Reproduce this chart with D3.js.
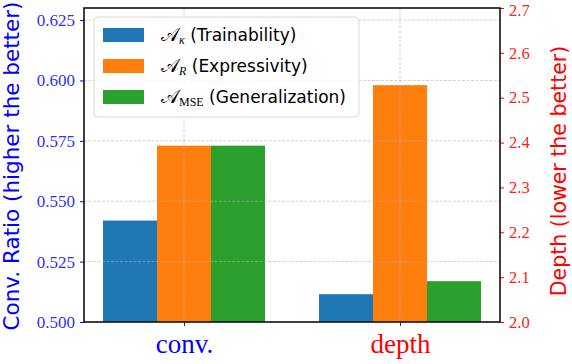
<!DOCTYPE html>
<html>
<head>
<meta charset="utf-8">
<script src="https://cdn.jsdelivr.net/npm/d3@7"></script>
<style>
  body { margin: 0; background: #fff; }
  svg { display: block; }
</style>
</head>
<body>
<script>
//chart size
var w = 572, h = 364;
var margin = {top: 8, right: 72, bottom: 42, left: 84};

//data
var categories = ["conv.", "depth"];
var seriesNames = ["Trainability", "Expressivity", "Generalization"];
var seriesSubs = ["\u03ba", "R", "MSE"];
var convValues = [0.542, 0.573, 0.573];   //left axis
var depthValues = [2.062, 2.528, 2.091];  //right axis
var leftTicks = [0.500, 0.525, 0.550, 0.575, 0.600, 0.625];
var rightTicks = [2.0, 2.1, 2.2, 2.3, 2.4, 2.5, 2.6, 2.7];
var colors = ["#1f77b4", "#ff7f0e", "#2ca02c"];

var pw = w - margin.left - margin.right,
    ph = h - margin.top - margin.bottom;

var svg = d3.select("body").append("svg")
    .attr("width", w)
    .attr("height", h);

var g = svg.append("g")
    .attr("transform", "translate(" + margin.left + "," + margin.top + ")");

//x scale in category units, like matplotlib's xlim
var x = d3.scaleLinear()
    .domain([-0.463, 1.463])
    .range([0, pw]);
var barW = 0.25;

var yL = d3.scaleLinear().domain([0.5, 0.63]).range([ph, 0]);
var yR = d3.scaleLinear().domain([2.0, 2.7]).range([ph, 0]);

//bars
var bars = [];
convValues.forEach(function(v, i){ bars.push({cat: 0, s: i, v: v, scale: yL}); });
depthValues.forEach(function(v, i){ bars.push({cat: 1, s: i, v: v, scale: yR}); });

g.selectAll(".bar")
    .data(bars)
    .enter()
    .append("rect")
    .attr("class", "bar")
    .attr("x", function(d){ return x(d.cat + (d.s - 1) * barW - barW / 2); })
    .attr("width", function(){ return x(barW) - x(0); })
    .attr("y", function(d){ return d.scale(d.v); })
    .attr("height", function(d){ return ph - d.scale(d.v); })
    .style("fill", function(d){ return colors[d.s]; });

//grid on top of bars
g.selectAll(".hgrid")
    .data(leftTicks.slice(1))
    .enter()
    .append("line")
    .attr("x1", 0).attr("x2", pw)
    .attr("y1", function(d){ return yL(d); })
    .attr("y2", function(d){ return yL(d); })
    .style("stroke", "#b0b0b0")
    .style("stroke-width", 0.8)
    .style("stroke-dasharray", "3,1.5")
    .style("opacity", 0.7);

g.selectAll(".vgrid")
    .data([0, 1])
    .enter()
    .append("line")
    .attr("x1", function(d){ return x(d); })
    .attr("x2", function(d){ return x(d); })
    .attr("y1", 0).attr("y2", ph)
    .style("stroke", "#b0b0b0")
    .style("stroke-width", 0.8)
    .style("stroke-dasharray", "3,1.5")
    .style("opacity", 0.7);

//axes
var axL = g.append("g")
    .call(d3.axisLeft(yL).tickValues(leftTicks).tickFormat(d3.format(".3f")).tickSize(4).tickPadding(5));
axL.select(".domain").remove();
axL.selectAll("line").style("stroke", "blue");
axL.selectAll("text").style("fill", "#3030ff")
    .style("font-family", "'Liberation Serif', serif").style("font-size", "17px");

var axR = g.append("g")
    .attr("transform", "translate(" + pw + ",0)")
    .call(d3.axisRight(yR).tickValues(rightTicks).tickFormat(d3.format(".1f")).tickSize(4).tickPadding(5));
axR.select(".domain").remove();
axR.selectAll("line").style("stroke", "red");
axR.selectAll("text").style("fill", "#ff2020")
    .style("font-family", "'Liberation Serif', serif").style("font-size", "16.5px")
    .attr("dy", function(d){ return d === 2.7 ? "0.45em" : "0.32em"; }); //keep top label inside

var axB = g.append("g")
    .attr("transform", "translate(0," + ph + ")")
    .call(d3.axisBottom(x).tickValues([0, 1]).tickFormat(function(d){ return categories[d]; }).tickSize(4).tickPadding(8));
axB.select(".domain").remove();
axB.selectAll("line").style("stroke", "#333");
axB.selectAll("text")
    .style("fill", function(d){ return d === 0 ? "blue" : "red"; })
    .style("font-family", "'Liberation Serif', serif").style("font-size", "27px");

//frame
g.append("rect")
    .attr("width", pw).attr("height", ph)
    .style("fill", "none")
    .style("stroke", "#111")
    .style("stroke-width", 1.6);

//axis titles
svg.append("text")
    .attr("transform", "translate(19," + (margin.top + ph / 2 + 1) + ") rotate(-90)")
    .attr("text-anchor", "middle")
    .style("fill", "blue")
    .style("font-family", "'DejaVu Sans', sans-serif")
    .style("font-size", "21.5px")
    .text("Conv. Ratio (higher the better)");

svg.append("text")
    .attr("transform", "translate(566," + (margin.top + ph / 2 + 6) + ") rotate(-90)")
    .attr("text-anchor", "middle")
    .style("fill", "red")
    .style("font-family", "'DejaVu Sans', sans-serif")
    .style("font-size", "20.5px")
    .text("Depth (lower the better)");

//legend
var legend = g.append("g").attr("transform", "translate(10,9)");
legend.append("rect")
    .attr("width", 265).attr("height", 100)
    .attr("rx", 4)
    .style("fill", "rgba(255,255,255,0.8)")
    .style("stroke", "#d8d8d8");

var items = legend.selectAll(".item")
    .data(seriesNames)
    .enter()
    .append("g")
    .attr("transform", function(d, i){ return "translate(0," + (18 + i * 31) + ")"; });

items.append("rect")
    .attr("x", 9).attr("y", -7)
    .attr("width", 41).attr("height", 14)
    .style("fill", function(d, i){ return colors[i]; });

var lbl = items.append("text")
    .attr("x", 67).attr("y", 6)
    .style("font-family", "'DejaVu Sans', sans-serif")
    .style("font-size", "17px");
lbl.append("tspan")
    .style("font-family", "'DejaVu Serif', serif")
    .style("font-size", "19px")
    .text("\ud835\udc9c");
lbl.append("tspan")
    .attr("dy", 3)
    .style("font-family", "'Liberation Serif', serif")
    .style("font-size", "12px")
    .style("font-style", function(d, i){ return i === 2 ? "normal" : "italic"; })
    .text(function(d, i){ return seriesSubs[i]; });
lbl.append("tspan")
    .attr("dy", -3)
    .text(function(d){ return " (" + d + ")"; });
</script>
</body>
</html>
